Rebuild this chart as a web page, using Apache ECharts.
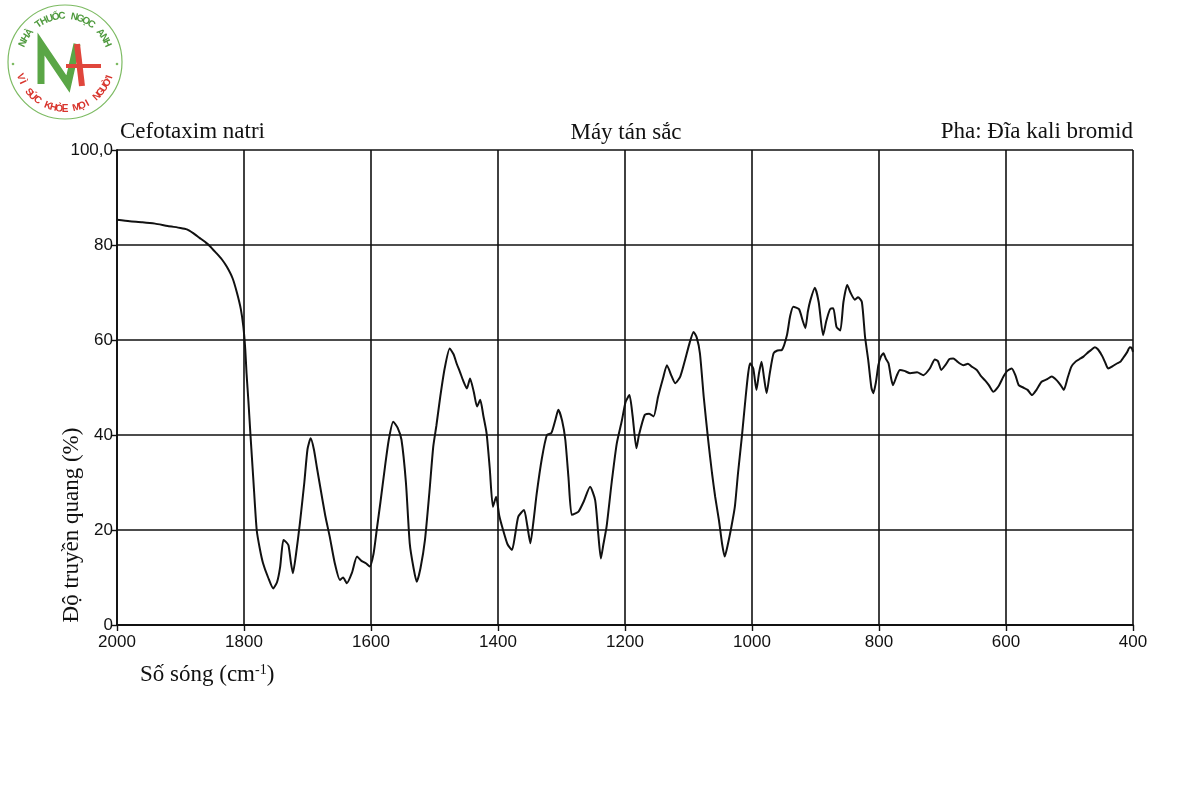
<!DOCTYPE html>
<html>
<head>
<meta charset="utf-8">
<title>Cefotaxim natri - IR</title>
<script src="https://cdn.jsdelivr.net/npm/echarts@6/dist/echarts.min.js"></script>
<style>
  html, body { margin: 0; padding: 0; background: #fff; }
  #chart { width: 1200px; height: 800px; }
</style>
</head>
<body>
<div id="chart"></div>
<script>
// số sóng (cm-1)
const wavenumbers = [
  2000, 1980, 1960, 1940, 1920, 1900, 1890, 1880, 1870, 1860, 1854, 1845, 1835, 1827, 1818, 1811, 1805, 1801, 1798, 1796,
  1793, 1790, 1785, 1780, 1775, 1770, 1762, 1754, 1748, 1743, 1738, 1734, 1730, 1726, 1723, 1718, 1712, 1705, 1700, 1695,
  1690, 1685, 1680, 1672, 1665, 1657, 1649, 1644, 1638, 1630, 1622, 1615, 1608, 1602, 1596, 1591, 1585, 1578, 1572, 1565,
  1558, 1552, 1545, 1539, 1533, 1528, 1522, 1515, 1508, 1502, 1497, 1491, 1484, 1476, 1470, 1465, 1460, 1455, 1449, 1444,
  1438, 1433, 1428, 1423, 1418, 1413, 1408, 1403, 1398, 1392, 1385, 1378, 1373, 1368, 1359, 1354, 1349, 1344, 1339, 1331,
  1323, 1316, 1310, 1305, 1299, 1294, 1289, 1284, 1278, 1273, 1265, 1255, 1247, 1242, 1238, 1234, 1229, 1221, 1213, 1205,
  1199, 1193, 1188, 1182, 1178, 1169, 1162, 1155, 1148, 1140, 1134, 1127, 1121, 1113, 1105, 1098, 1092, 1087, 1082, 1076,
  1069, 1063, 1058, 1052, 1047, 1043, 1038, 1032, 1027, 1022, 1016, 1010, 1006, 1003, 998, 993, 989, 985, 981, 977,
  972, 966, 960, 953, 945, 940, 935, 926, 920, 916, 912, 908, 901, 895, 888, 883, 877, 872, 867, 861,
  856, 850, 845, 838, 833, 827, 822, 817, 812, 809, 805, 801, 797, 793, 789, 785, 781, 778, 772, 767,
  760, 751, 740, 730, 720, 712, 707, 702, 695, 689, 683, 677, 672, 667, 660, 655, 646, 640, 633, 627,
  620, 612, 604, 598, 591, 585, 580, 573, 566, 559, 552, 544, 536, 528, 520, 514, 509, 503, 497, 490,
  484, 478, 470, 465, 460, 455, 448, 443, 439, 432, 426, 420, 414, 409, 405, 402, 400
];

// độ truyền quang (%)
const transmittance = [
  85.3, 85, 84.8, 84.5, 84, 83.6, 83.3, 82.5, 81.5, 80.5, 79.8, 78.5, 77, 75.4, 73, 69.9, 66.5, 62.8, 58, 53,
  47, 40.4, 30, 20, 16, 13, 10, 7.7, 9, 12.3, 17.9, 17.5, 16.8, 13, 10.9, 15, 21.4, 30, 37, 39.3,
  37, 33, 29.1, 23, 18.6, 13, 9.5, 10, 8.8, 11, 14.4, 13.5, 13, 12.3, 15, 20, 26, 33.3, 39, 42.8,
  41.5, 39, 30, 17.2, 12, 9.1, 12, 17.9, 28, 37.5, 42, 48, 54, 58.2, 57, 55, 53.3, 51.5, 49.8, 51.9,
  49, 46, 47.4, 44, 40.4, 33, 24.9, 27, 23, 20, 17, 15.8, 19, 22.8, 24.2, 21, 17.2, 22, 27.7, 35,
  40, 40.4, 43, 45.3, 43, 39, 31, 23.2, 23.5, 23.9, 26, 29.1, 26.3, 19, 14, 17, 20.7, 30, 38.2, 43,
  47, 48.4, 44, 37.2, 40, 44.2, 44.5, 43.9, 48, 52, 54.7, 52.5, 50.9, 52.3, 56, 59.5, 61.7, 60.5, 57.2, 48,
  38.9, 32, 27, 22, 17, 14.4, 17, 21, 24.9, 32, 39.6, 48, 53, 55.1, 54, 49.5, 53, 55.4, 52, 48.8,
  53, 57.2, 57.8, 57.9, 61, 65, 67, 66.5, 64, 62.5, 66, 68.4, 71, 68, 61, 64, 66.5, 66.7, 62.8, 62,
  68, 71.6, 70, 68.5, 69, 68, 60.7, 55.8, 50, 48.8, 51, 54.7, 56.5, 57.2, 56, 55.1, 52, 50.5, 52.5, 53.7,
  53.5, 53, 53.2, 52.6, 54, 55.9, 55.5, 53.7, 54.8, 56, 56.1, 55.5, 55, 54.7, 55, 54.5, 53.7, 52.5, 51.5, 50.5,
  49.1, 50.2, 52.3, 53.5, 54, 52.5, 50.5, 50, 49.5, 48.4, 49.5, 51.2, 51.7, 52.3, 51.5, 50.5, 49.5, 52, 54.4, 55.5,
  56, 56.5, 57.5, 58, 58.5, 58, 56.5, 55, 54, 54.5, 55, 55.4, 56.5, 57.5, 58.5, 58.3, 57.5
];

const xTicks = [2000, 1800, 1600, 1400, 1200, 1000, 800, 600, 400];
const yTicks = [0, 20, 40, 60, 80, 100];

const chart = echarts.init(document.getElementById('chart'));

const serif = '"Liberation Serif", "DejaVu Serif", serif';
const sans = '"Liberation Sans", Arial, sans-serif';

// chữ cong quanh logo
function arcText(str, cx, cy, r, startDeg, endDeg, color, outward) {
  const chars = str.split('');
  const out = [];
  const n = chars.length;
  for (let i = 0; i < n; i++) {
    const deg = startDeg + (endDeg - startDeg) * (i + 0.5) / n;
    const a = deg * Math.PI / 180;
    const x = cx + r * Math.cos(a);
    const y = cy + r * Math.sin(a);
    const rot = outward ? -(a + Math.PI / 2) : -(a - Math.PI / 2);
    out.push({
      type: 'text',
      x: x, y: y,
      rotation: rot,
      style: {
        text: chars[i], fill: color,
        font: 'bold 10px ' + sans,
        align: 'center', verticalAlign: 'middle'
      }
    });
  }
  return out;
}

const logoCx = 65, logoCy = 62;
const logo = [
  { type: 'circle', shape: { cx: logoCx, cy: logoCy, r: 57 }, style: { fill: '#fff', stroke: '#7dbb63', lineWidth: 1.2 } },
  { type: 'circle', shape: { cx: logoCx - 52, cy: logoCy + 2, r: 1.3 }, style: { fill: '#7dbb63' } },
  { type: 'circle', shape: { cx: logoCx + 52, cy: logoCy + 2, r: 1.3 }, style: { fill: '#7dbb63' } },
  { type: 'polyline', shape: { points: [[41, 84], [41, 44], [68, 84], [77, 44]] },
    style: { stroke: '#5aa646', lineWidth: 7, fill: null, lineJoin: 'miter' } },
  { type: 'polyline', shape: { points: [[77, 44], [82, 86]] }, style: { stroke: '#e0463c', lineWidth: 6, fill: null } },
  { type: 'polyline', shape: { points: [[66, 66], [101, 66]] }, style: { stroke: '#e0463c', lineWidth: 4, fill: null } }
].concat(
  arcText('NHÀ THUỐC NGỌC ANH', logoCx, logoCy, 46, -160, -20, '#4f9a3e', true),
  arcText('VÌ SỨC KHỎE MỌI NGƯỜI', logoCx, logoCy, 47, 165, 15, '#d8342c', false)
);

const option = {
  backgroundColor: '#fff',
  animation: false,
  grid: { left: 117, right: 67, top: 150, bottom: 175, show: false },
  xAxis: {
    type: 'value',
    min: 400,
    max: 2000,
    interval: 200,
    inverse: true,
    axisLine: { show: true, lineStyle: { color: '#111', width: 1.8 } },
    axisTick: { show: true, length: 6, lineStyle: { color: '#111', width: 1.4 } },
    axisLabel: { color: '#111', fontSize: 17, fontFamily: sans, margin: 9,
      formatter: v => xTicks.includes(v) ? String(v) : '' },
    splitLine: { show: true, lineStyle: { color: '#111', width: 1.6 } }
  },
  yAxis: {
    type: 'value',
    min: 0,
    max: 100,
    interval: 20,
    axisLine: { show: true, lineStyle: { color: '#111', width: 1.8 } },
    axisTick: { show: true, length: 6, lineStyle: { color: '#111', width: 1.4 } },
    axisLabel: { color: '#111', fontSize: 17, fontFamily: sans, margin: 4, padding: [0, 0, 6, 0],
      formatter: v => v === 100 ? '100,0' : (yTicks.includes(v) ? String(v) : '') },
    splitLine: { show: true, lineStyle: { color: '#111', width: 1.6 } }
  },
  series: [{
    type: 'line',
    data: wavenumbers.map((w, i) => [w, transmittance[i]]),
    showSymbol: false,
    smooth: 0.2,
    lineStyle: { color: '#111', width: 2 }
  }],
  graphic: logo.concat([
    { type: 'text', x: 120, y: 132, style: { text: 'Cefotaxim natri', font: '23px ' + serif, fill: '#111', verticalAlign: 'middle' } },
    { type: 'text', x: 626, y: 133, style: { text: 'Máy tán sắc', font: '23px ' + serif, fill: '#111', align: 'center', verticalAlign: 'middle' } },
    { type: 'text', x: 1133, y: 132, style: { text: 'Pha: Đĩa kali bromid', font: '23px ' + serif, fill: '#111', align: 'right', verticalAlign: 'middle' } },
    { type: 'text', x: 72, y: 525, rotation: Math.PI / 2,
      style: { text: 'Độ truyền quang (%)', font: '23px ' + serif, fill: '#111', align: 'center', verticalAlign: 'middle' } },
    { type: 'text', x: 140, y: 675,
      style: {
        text: '{a|Số sóng (cm}{s|-1}{a|)}',
        verticalAlign: 'middle',
        rich: {
          a: { fontFamily: serif, fontSize: 23, fill: '#111', color: '#111' },
          s: { fontFamily: serif, fontSize: 14, fill: '#111', color: '#111', verticalAlign: 'top', padding: [0, 0, 10, 0] }
        }
      } }
  ])
};

chart.setOption(option);
</script>
</body>
</html>
